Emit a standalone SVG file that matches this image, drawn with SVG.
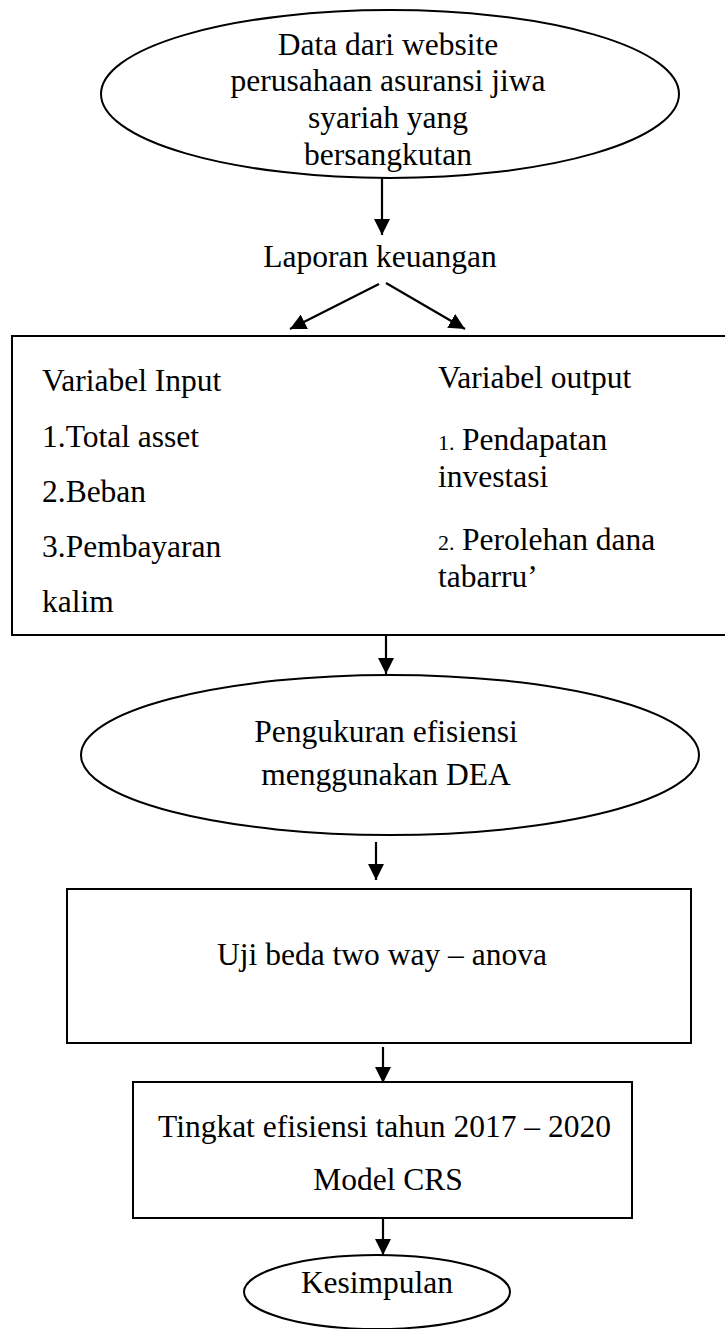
<svg xmlns="http://www.w3.org/2000/svg" width="725" height="1329" viewBox="0 0 725 1329">
  <style>
    .shape { fill: #ffffff; stroke: #000000; stroke-width: 2; }
    .t { font-family: "Liberation Serif", "Times New Roman", serif; font-size: 31.5px; fill: #000000; }
    .mid { text-anchor: middle; }
    .num { font-size: 22px; }
    .link { stroke: #000000; stroke-width: 2.2; fill: none; marker-end: url(#arrow); }
  </style>
  <defs>
    <marker id="arrow" viewBox="0 0 16 16" refX="16" refY="8" markerWidth="16" markerHeight="16" markerUnits="userSpaceOnUse" orient="auto">
      <path d="M0,0 L16,8 L0,16 z" fill="#000000"/>
    </marker>
  </defs>
  <rect width="725" height="1329" fill="#ffffff"/>

  <!-- source: company websites -->
  <g id="node-data">
    <ellipse class="shape" cx="390" cy="94" rx="289" ry="84"/>
    <text class="t mid" x="388" y="55">Data dari website</text>
    <text class="t mid" x="388" y="91">perusahaan asuransi jiwa</text>
    <text class="t mid" x="388" y="128">syariah yang</text>
    <text class="t mid" x="388" y="165">bersangkutan</text>
  </g>

  <!-- financial reports label -->
  <g id="node-laporan">
    <text class="t mid" x="380" y="267">Laporan keuangan</text>
  </g>

  <!-- input / output variables -->
  <g id="node-variabel">
    <rect class="shape" x="12" y="336" width="720" height="299"/>
    <text class="t" x="42" y="391">Variabel Input</text>
    <text class="t" x="42" y="447">1.Total asset</text>
    <text class="t" x="42" y="502">2.Beban</text>
    <text class="t" x="42" y="557">3.Pembayaran</text>
    <text class="t" x="42" y="612">kalim</text>
    <text class="t" x="438" y="388">Variabel output</text>
    <text class="t" x="438" y="450"><tspan class="num">1.</tspan><tspan x="462">Pendapatan</tspan></text>
    <text class="t" x="438" y="487">investasi</text>
    <text class="t" x="438" y="550"><tspan class="num">2.</tspan><tspan x="462">Perolehan dana</tspan></text>
    <text class="t" x="438" y="587">tabarru’</text>
  </g>

  <!-- DEA measurement -->
  <g id="node-dea">
    <ellipse class="shape" cx="390" cy="755" rx="309" ry="80"/>
    <text class="t mid" x="386" y="742">Pengukuran efisiensi</text>
    <text class="t mid" x="386" y="785">menggunakan DEA</text>
  </g>

  <!-- two-way ANOVA -->
  <g id="node-anova">
    <rect class="shape" x="67" y="889" width="624" height="154"/>
    <text class="t mid" x="382" y="965">Uji beda two way – anova</text>
  </g>

  <!-- efficiency level result -->
  <g id="node-tingkat">
    <rect class="shape" x="133" y="1082" width="499" height="136"/>
    <text class="t" x="158" y="1137">Tingkat efisiensi tahun 2017 – 2020</text>
    <text class="t mid" x="388" y="1190">Model CRS</text>
  </g>

  <!-- conclusion -->
  <g id="node-kesimpulan">
    <ellipse class="shape" cx="377" cy="1292" rx="133" ry="37"/>
    <text class="t mid" x="377" y="1293">Kesimpulan</text>
  </g>

  <!-- connectors -->
  <g id="connectors">
    <line class="link" x1="382" y1="178" x2="382" y2="235"/>
    <line class="link" x1="379" y1="284" x2="290" y2="329"/>
    <line class="link" x1="386" y1="283" x2="465" y2="329"/>
    <line class="link" x1="386" y1="636" x2="386" y2="674"/>
    <line class="link" x1="376" y1="842" x2="376" y2="880"/>
    <line class="link" x1="383" y1="1047" x2="383" y2="1083"/>
    <line class="link" x1="383" y1="1218" x2="383" y2="1255"/>
  </g>
</svg>
